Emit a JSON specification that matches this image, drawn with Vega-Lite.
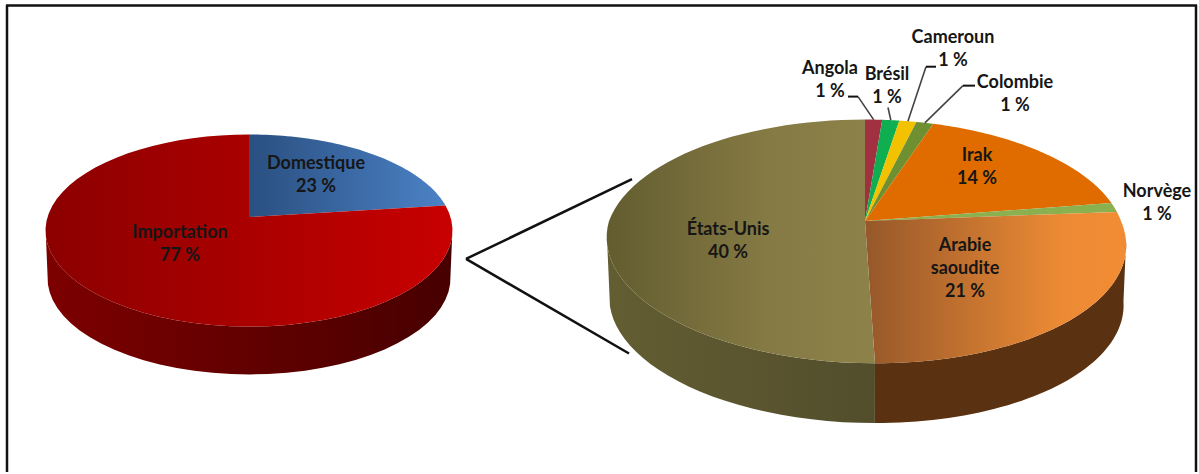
{
  "$schema": "https://vega.github.io/schema/vega-lite/v6.json",
  "width": 1199,
  "height": 474,
  "autosize": {"type": "fit", "contains": "padding"},
  "padding": 0,
  "background": "white",
  "config": {"view": {"stroke": null}},
  "resolve": {"scale": {"color": "independent"}},
  "encoding": {
    "x": {"type": "quantitative", "scale": {"domain": [0, 1199], "nice": false, "zero": false}, "axis": null},
    "y": {"type": "quantitative", "scale": {"domain": [474, 0], "nice": false, "zero": false}, "axis": null}
  },
  "layer": [
    {
      "data": {"values": [{"trait": "haut"}, {"trait": "gauche"}, {"trait": "droite"}]},
      "transform": [
        {"calculate": "{haut: [6, 5.5, 1197, 5.5], gauche: [7, 5, 7, 474], droite: [1196, 5, 1196, 474]}[datum.trait]", "as": "c"},
        {"calculate": "datum.c[0]", "as": "xa"},
        {"calculate": "datum.c[1]", "as": "ya"},
        {"calculate": "datum.c[2]", "as": "xb"},
        {"calculate": "datum.c[3]", "as": "yb"}
      ],
      "mark": {"type": "rule", "color": "#111111", "strokeWidth": 2.5},
      "encoding": {"x": {"field": "xa"}, "y": {"field": "ya"}, "x2": {"field": "xb"}, "y2": {"field": "yb"}}
    },
    {
      "data": {"values": [{"trait": "vers le haut"}, {"trait": "vers le bas"}]},
      "transform": [
        {"calculate": "{'vers le haut': [632, 180], 'vers le bas': [629, 355]}[datum.trait]", "as": "c"},
        {"calculate": "466", "as": "xa"},
        {"calculate": "260", "as": "ya"},
        {"calculate": "datum.c[0]", "as": "xb"},
        {"calculate": "datum.c[1]", "as": "yb"}
      ],
      "mark": {"type": "rule", "color": "#111111", "strokeWidth": 2.5},
      "encoding": {"x": {"field": "xa"}, "y": {"field": "ya"}, "x2": {"field": "xb"}, "y2": {"field": "yb"}}
    },
    {
      "data": {
        "values": [
          {"secteur": "Total", "label": "Domestique", "part": 23},
          {"secteur": "Total", "label": "Importation", "part": 77},
          {"secteur": "Import", "label": "Angola", "part": 1},
          {"secteur": "Import", "label": "Brésil", "part": 1},
          {"secteur": "Import", "label": "Cameroun", "part": 1},
          {"secteur": "Import", "label": "Colombie", "part": 1},
          {"secteur": "Import", "label": "Irak", "part": 14},
          {"secteur": "Import", "label": "Norvège", "part": 1},
          {"secteur": "Import", "label": "Arabie saoudite", "part": 21},
          {"secteur": "Import", "label": "États-Unis", "part": 40}
        ]
      },
      "transform": [
        {"joinaggregate": [{"op": "sum", "field": "part", "as": "total"}], "groupby": ["secteur"]},
        {"window": [{"op": "sum", "field": "part", "as": "cumul"}], "groupby": ["secteur"], "frame": [null, 0]},
        {"calculate": "2 * PI * (datum.cumul - datum.part) / datum.total", "as": "a0"},
        {"calculate": "2 * PI * datum.cumul / datum.total", "as": "a1"},
        {"calculate": "datum.secteur === 'Total' ? {cx: 249, cy: 218, rx: 201.5, ry: 94.6, k: 0.14, h: 48, s: 0} : {cx: 865, cy: 222, rx: 256, ry: 119, k: 0.167, h: 60, s: 8.3}", "as": "g"},
        {"calculate": "sequence(-1, 61)", "as": "pas"},
        {"flatten": ["pas"]},
        {"calculate": "datum.a0 + (datum.a1 - datum.a0) * datum.pas / 60", "as": "t"},
        {"calculate": "1 + datum.g.k * cos(datum.t)", "as": "w"},
        {"calculate": "datum.pas < 0 ? datum.g.cx : datum.g.cx + (datum.g.rx * sin(datum.t) + datum.g.s * max(0, -cos(datum.t))) / datum.w", "as": "px"},
        {"calculate": "datum.pas < 0 ? datum.g.cy : datum.g.cy - datum.g.ry * cos(datum.t) / datum.w", "as": "py"}
      ],
      "layer": [
        {
          "transform": [
            {"filter": "datum.pas >= 0 && cos(datum.t) <= -datum.g.k"},
            {"calculate": "[0, 1]", "as": "bord"},
            {"flatten": ["bord"]},
            {"calculate": "datum.bord === 0 ? datum.px : datum.g.cx + (datum.px - datum.g.cx) * 0.99", "as": "mx"},
            {"calculate": "datum.bord === 0 ? datum.py : datum.py + datum.g.h", "as": "my"},
            {"calculate": "datum.bord === 0 ? datum.pas : 200 - datum.pas", "as": "rang"}
          ],
          "layer": [
            {
              "transform": [{"filter": "datum.label === 'Importation'"}],
              "mark": {"type": "line", "filled": true, "strokeWidth": 0, "color": {"gradient": "linear", "x1": 0, "y1": 0, "x2": 1, "y2": 0, "stops": [{"offset": 0, "color": "#7d0000"}, {"offset": 1, "color": "#470000"}]}},
              "encoding": {
                "x": {"field": "mx", "type": "quantitative"},
                "y": {"field": "my", "type": "quantitative"},
                "order": {"field": "rang", "type": "quantitative"}
              }
            },
            {
              "transform": [{"filter": "datum.label === 'États-Unis'"}],
              "mark": {"type": "line", "filled": true, "strokeWidth": 0, "color": {"gradient": "linear", "x1": 0, "y1": 0, "x2": 1, "y2": 0, "stops": [{"offset": 0, "color": "#635d32"}, {"offset": 1, "color": "#524e2c"}]}},
              "encoding": {
                "x": {"field": "mx", "type": "quantitative"},
                "y": {"field": "my", "type": "quantitative"},
                "order": {"field": "rang", "type": "quantitative"}
              }
            },
            {
              "transform": [{"filter": "datum.label === 'Arabie saoudite'"}],
              "mark": {"type": "line", "filled": true, "strokeWidth": 0, "color": "#5a3212"},
              "encoding": {
                "x": {"field": "mx", "type": "quantitative"},
                "y": {"field": "my", "type": "quantitative"},
                "order": {"field": "rang", "type": "quantitative"}
              }
            }
          ]
        },
        {
          "transform": [{"filter": "indexof(['Domestique', 'Importation', 'Arabie saoudite', 'États-Unis'], datum.label) < 0"}],
          "mark": {"type": "line", "filled": true, "strokeWidth": 0},
          "encoding": {
            "x": {"field": "px", "type": "quantitative"},
            "y": {"field": "py", "type": "quantitative"},
            "order": {"field": "pas", "type": "quantitative"},
            "color": {
              "field": "label", "type": "nominal", "legend": null,
              "scale": {
                "domain": ["Angola", "Brésil", "Cameroun", "Colombie", "Irak", "Norvège"],
                "range": ["#a13040", "#0fae50", "#f2c200", "#6f9030", "#e06c00", "#8ab050"]
              }
            }
          }
        },
        {
          "transform": [{"filter": "datum.label === 'Domestique'"}],
          "mark": {"type": "line", "filled": true, "strokeWidth": 0, "color": {"gradient": "linear", "x1": 0, "y1": 0, "x2": 1, "y2": 0, "stops": [{"offset": 0, "color": "#2a4f80"}, {"offset": 1, "color": "#4b82c6"}]}},
          "encoding": {
            "x": {"field": "px", "type": "quantitative"},
            "y": {"field": "py", "type": "quantitative"},
            "order": {"field": "pas", "type": "quantitative"}
          }
        },
        {
          "transform": [{"filter": "datum.label === 'Importation'"}],
          "mark": {"type": "line", "filled": true, "strokeWidth": 0, "color": {"gradient": "linear", "x1": 0, "y1": 0, "x2": 1, "y2": 0, "stops": [{"offset": 0, "color": "#8c0000"}, {"offset": 1, "color": "#c80000"}]}},
          "encoding": {
            "x": {"field": "px", "type": "quantitative"},
            "y": {"field": "py", "type": "quantitative"},
            "order": {"field": "pas", "type": "quantitative"}
          }
        },
        {
          "transform": [{"filter": "datum.label === 'Arabie saoudite'"}],
          "mark": {"type": "line", "filled": true, "strokeWidth": 0, "color": {"gradient": "linear", "x1": 0, "y1": 0, "x2": 1, "y2": 0, "stops": [{"offset": 0, "color": "#96582a"}, {"offset": 0.75, "color": "#ec8a34"}, {"offset": 1, "color": "#f28c34"}]}},
          "encoding": {
            "x": {"field": "px", "type": "quantitative"},
            "y": {"field": "py", "type": "quantitative"},
            "order": {"field": "pas", "type": "quantitative"}
          }
        },
        {
          "transform": [{"filter": "datum.label === 'États-Unis'"}],
          "mark": {"type": "line", "filled": true, "strokeWidth": 0, "color": {"gradient": "linear", "x1": 0, "y1": 0, "x2": 1, "y2": 0, "stops": [{"offset": 0, "color": "#625c2f"}, {"offset": 0.6, "color": "#857a44"}, {"offset": 1, "color": "#8d8249"}]}},
          "encoding": {
            "x": {"field": "px", "type": "quantitative"},
            "y": {"field": "py", "type": "quantitative"},
            "order": {"field": "pas", "type": "quantitative"}
          }
        },
        {
          "transform": [
            {"filter": "datum.pas === 30 && indexof(['Angola', 'Brésil', 'Cameroun', 'Colombie'], datum.label) >= 0"},
            {"calculate": "{Angola: [858, 97], 'Brésil': [888, 108], Cameroun: [926, 67], Colombie: [963, 86]}[datum.label]", "as": "e"},
            {"calculate": "datum.e[0]", "as": "ex"},
            {"calculate": "datum.e[1]", "as": "ey"}
          ],
          "mark": {"type": "rule", "color": "#444444", "strokeWidth": 1.6},
          "encoding": {"x": {"field": "px"}, "y": {"field": "py"}, "x2": {"field": "ex"}, "y2": {"field": "ey"}}
        },
        {
          "transform": [
            {"filter": "datum.pas === 30 && indexof(['Angola', 'Cameroun', 'Colombie'], datum.label) >= 0"},
            {"calculate": "{Angola: [848, 858, 97], Cameroun: [936, 926, 67], Colombie: [975, 963, 86]}[datum.label]", "as": "e"},
            {"calculate": "datum.e[0]", "as": "xa"},
            {"calculate": "datum.e[1]", "as": "xb"},
            {"calculate": "datum.e[2]", "as": "ey"}
          ],
          "mark": {"type": "rule", "color": "#111111", "strokeWidth": 2},
          "encoding": {"x": {"field": "xa"}, "y": {"field": "ey"}, "x2": {"field": "xb"}}
        },
        {
          "transform": [
            {"filter": "datum.pas === 0"},
            {"calculate": "{Domestique: [316, 165], Importation: [180, 234], Angola: [830, 69], 'Brésil': [887, 75], Cameroun: [953, 38], Colombie: [1015, 83], Irak: [977, 157], 'Norvège': [1157, 193], 'Arabie saoudite': [965, 247], 'États-Unis': [728, 231]}[datum.label]", "as": "c"},
            {"calculate": "datum.c[0]", "as": "tx"},
            {"calculate": "datum.c[1]", "as": "ty"},
            {"calculate": "replace(datum.label, ' ', '|') + '|' + datum.part + ' %'", "as": "texte"}
          ],
          "mark": {"type": "text", "font": "Lato", "fontWeight": "bold", "fontSize": 18, "lineHeight": 23, "lineBreak": "|", "align": "center", "baseline": "middle", "color": "#161616"},
          "encoding": {
            "x": {"field": "tx", "type": "quantitative"},
            "y": {"field": "ty", "type": "quantitative"},
            "text": {"field": "texte", "type": "nominal"}
          }
        }
      ]
    }
  ]
}
